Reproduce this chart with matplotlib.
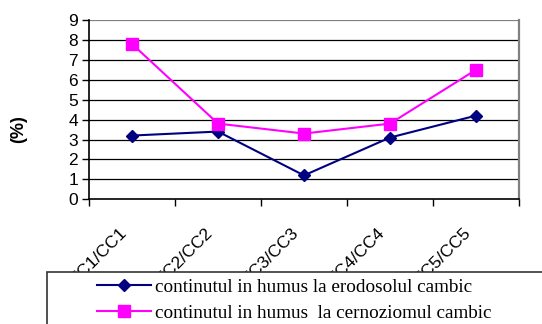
import matplotlib.pyplot as plt
import matplotlib.transforms as mtransforms
from matplotlib.patches import Rectangle

categories = ['EC1/CC1', 'EC2/CC2', 'EC3/CC3', 'EC4/CC4', 'EC5/CC5']
erodosol = [3.2, 3.4, 1.2, 3.1, 4.2]
cernoziom = [7.8, 3.8, 3.3, 3.8, 6.5]
labels = ['continutul in humus la erodosolul cambic',
          'continutul in humus  la cernoziomul cambic']

W, H = 542, 324
fig = plt.figure(figsize=(W / 100, H / 100), dpi=100)
ax = fig.add_axes([89 / W, 1 - 199.3 / H, 430 / W, 179.3 / H])

x = list(range(len(categories)))
ax.plot(x, erodosol, color='#000080', lw=1.5, marker='D', markersize=6,
        label=labels[0], zorder=4)
ax.plot(x, cernoziom, color='#ff00ff', lw=1.5, marker='s', markersize=8.5,
        label=labels[1], zorder=4)

ax.set_xlim(-0.5, 4.5)
ax.set_ylim(0, 9)
ax.set_yticks(range(10))
for v in range(1, 10):
    ax.axhline(v, color='#000000' if v < 9 else '#808080',
               lw=0.9 if v < 9 else 1.6, zorder=1)

ax.set_xticks(x)
ax.set_xticklabels(categories, rotation=45, ha='right', va='center',
                   rotation_mode='anchor', fontsize=12.5, family='Liberation Sans')
ax.set_xticks([i - 0.5 for i in range(len(categories) + 1)], minor=True)
ax.tick_params(axis='x', which='major', length=0, pad=22)
ax.tick_params(axis='x', which='minor', length=5, width=1, direction='out')
ax.tick_params(axis='y', length=5, width=1, direction='out', pad=3,
               labelsize=12.5)
for t in ax.get_yticklabels():
    t.set_family('Liberation Sans')

# nudge the slanted category labels a little to the left
shift = mtransforms.ScaledTranslation(-8 / 100, 0, fig.dpi_scale_trans)
for t in ax.get_xticklabels():
    t.set_transform(t.get_transform() + shift)

ax.spines['left'].set_linewidth(1.2)
ax.spines['bottom'].set_linewidth(1.2)
ax.spines['right'].set_color('#808080')
ax.spines['right'].set_linewidth(1.6)
ax.spines['top'].set_visible(False)

fig.text(18.5 / W, 1 - 129 / H, '(%)', rotation=90, ha='center', va='center',
         fontsize=13, fontweight='bold', family='Liberation Sans')

# legend box runs off the lower right corner of the figure
box = Rectangle((47 / W, -0.2), 1.2, 1 - 272 / H + 0.2,
                transform=fig.transFigure, facecolor='white',
                edgecolor='#333333', lw=1.2, zorder=5)
fig.patches.append(box)
fig.legend(loc='upper left', bbox_to_anchor=(89.5 / W, 1 - 271 / H),
           frameon=False, prop={'family': 'Liberation Serif', 'size': 13.8},
           handlelength=2.8, handletextpad=0.2, labelspacing=0.45,
           borderaxespad=0).set_zorder(6)

fig.savefig('out.png', dpi=100)
